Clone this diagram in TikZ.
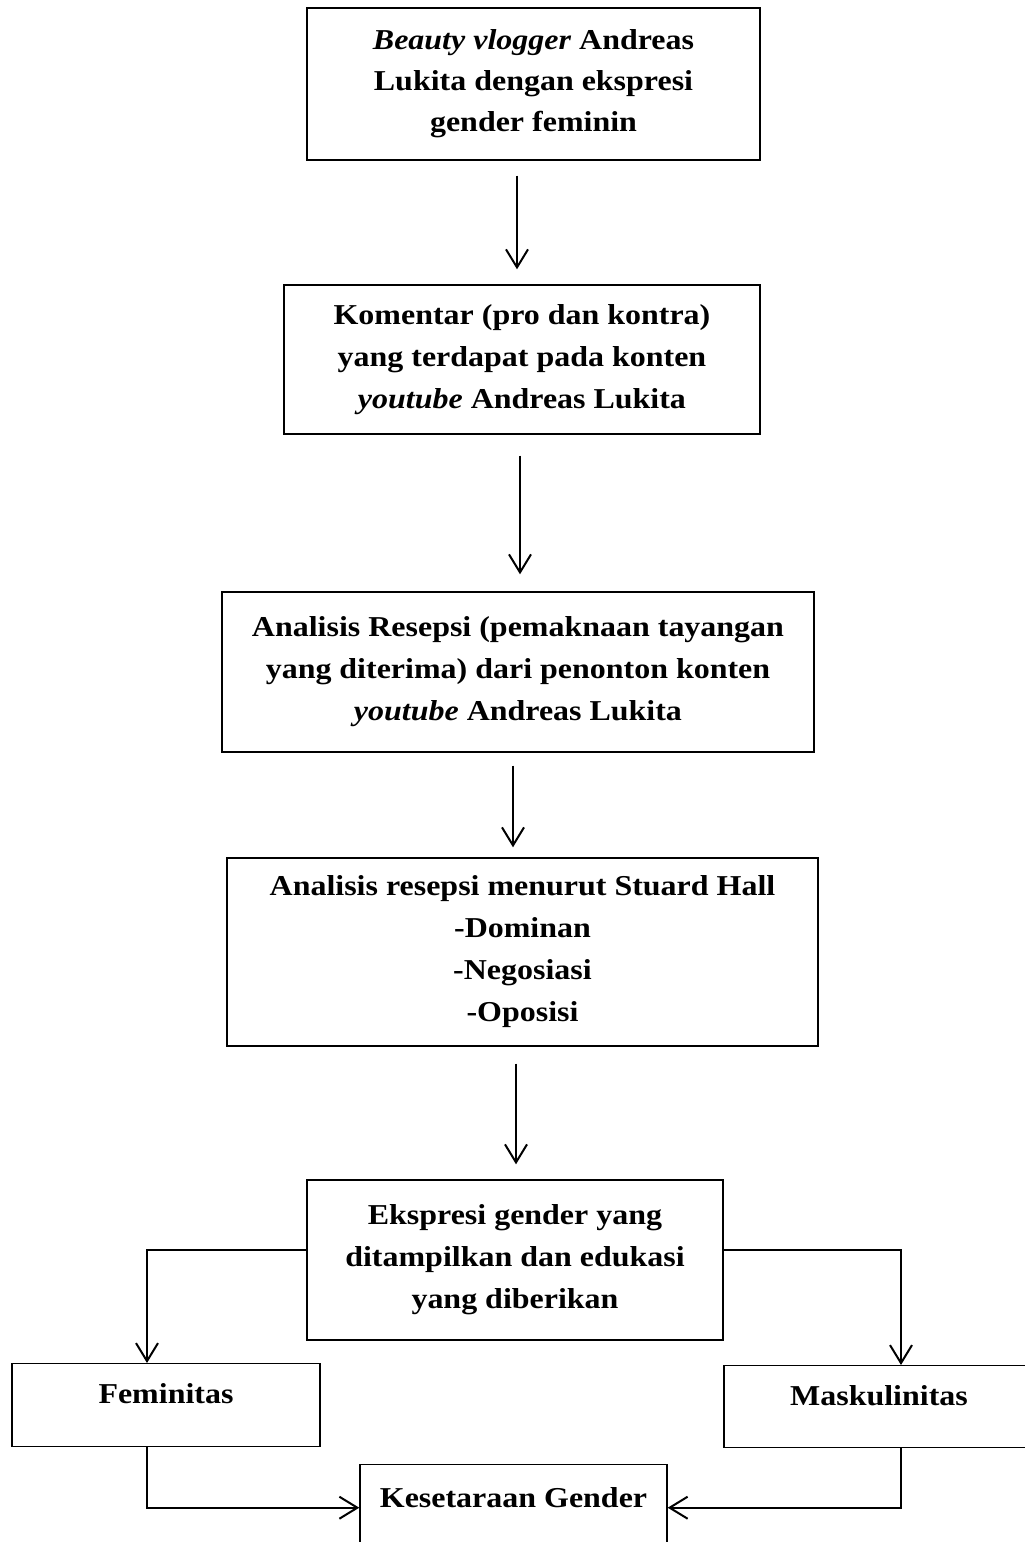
\documentclass[tikz,border=0pt]{standalone}
\usepackage{fontspec}
\setmainfont{Liberation Serif}[FakeStretch=1.11]
\usetikzlibrary{arrows.meta, positioning, calc}
\tikzset{
  box/.style={draw=black, line width=0.7pt, fill=white, inner sep=0pt, font=\fontsize{14.4}{21}\selectfont\bfseries},
  tallbox/.style={box, align=center},
  lowbox/.style={box, anchor=north},
  arrow/.style={-{Straight Barb[length=9pt, width=11pt, line width=1pt]}, line width=1pt, draw=black}
}

\begin{document}
\begin{tikzpicture}[x=0.5pt, y=-0.5pt]
\useasboundingbox (0,0) rectangle (1024,1542);

\node[tallbox, minimum width=226.5pt, minimum height=76pt, font=\fontsize{14.4}{20.5}\selectfont\bfseries] (vlogger) at (533.5,84) {\textit{Beauty vlogger} Andreas\\Lukita dengan ekspresi\\gender feminin};
\node[tallbox, minimum width=238pt, minimum height=74.5pt] (komentar) at (522,359.5) {Komentar (pro dan kontra)\\yang terdapat pada konten\\\textit{youtube} Andreas Lukita};
\node[tallbox, minimum width=296pt, minimum height=80pt] (resepsi) at (518,672) {Analisis Resepsi (pemaknaan tayangan\\yang diterima) dari penonton konten\\\textit{youtube} Andreas Lukita};
\node[tallbox, minimum width=295.5pt, minimum height=94pt] (hall) at (522.5,952) {Analisis resepsi menurut Stuard Hall\\-Dominan\\-Negosiasi\\-Oposisi};
\node[tallbox, minimum width=208pt, minimum height=80pt] (ekspresi) at (515,1260) {Ekspresi gender yang\\ditampilkan dan edukasi\\yang diberikan};

\node[lowbox, minimum width=154pt, text height=20pt, text depth=21.5pt] (feminitas) at (166,1363) {Feminitas};
\node[lowbox, minimum width=155pt, text height=20pt, text depth=21pt] (maskulinitas) at (879,1365) {Maskulinitas};
\node[lowbox, minimum width=153.5pt, text height=21.5pt, text depth=21.5pt] (kesetaraan) at (513.5,1464) {Kesetaraan Gender};

% alur utama
\draw[arrow, shorten <=7.5pt, shorten >=7.5pt] (vlogger.south -| 517,0) -- (komentar.north -| 517,0);
\draw[arrow, shorten <=10.5pt, shorten >=8.5pt] (komentar.south -| 520,0) -- (resepsi.north -| 520,0);
\draw[arrow, shorten <=6.5pt, shorten >=5pt] (resepsi.south -| 513,0) -- (hall.north -| 513,0);
\draw[arrow, shorten <=8.5pt, shorten >=7.5pt] (hall.south -| 516,0) -- (ekspresi.north -| 516,0);

% cabang
\draw[arrow] ([yshift=5pt]ekspresi.west) -| ([xshift=-9.5pt]feminitas.north);
\draw[arrow] ([yshift=5pt]ekspresi.east) -| ([xshift=11pt]maskulinitas.north);
\draw[arrow] ([xshift=-9.5pt]feminitas.south) |- (kesetaraan.west);
\draw[arrow] ([xshift=11pt]maskulinitas.south) |- (kesetaraan.east);
\end{tikzpicture}
\end{document}
